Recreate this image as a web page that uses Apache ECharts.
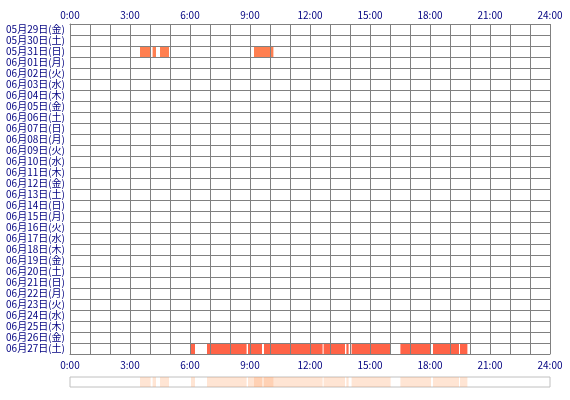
<!DOCTYPE html>
<html>
<head>
<meta charset="utf-8">
<script src="https://cdn.jsdelivr.net/npm/echarts@6/dist/echarts.min.js"></script>
<style>
html, body { margin: 0; padding: 0; background: #fff; }
#chart { width: 570px; height: 400px; }
</style>
</head>
<body>
<div id="chart"></div>
<script>
// day rows, top to bottom
var days = [
  "05月29日(金)", "05月30日(土)", "05月31日(日)", "06月01日(月)", "06月02日(火)",
  "06月03日(水)", "06月04日(木)", "06月05日(金)", "06月06日(土)", "06月07日(日)",
  "06月08日(月)", "06月09日(火)", "06月10日(水)", "06月11日(木)", "06月12日(金)",
  "06月13日(土)", "06月14日(日)", "06月15日(月)", "06月16日(火)", "06月17日(水)",
  "06月18日(木)", "06月19日(金)", "06月20日(土)", "06月21日(日)", "06月22日(月)",
  "06月23日(火)", "06月24日(水)", "06月25日(木)", "06月26日(金)", "06月27日(土)"
];

// time ticks (hours)
var hourLabels = ["0:00", "3:00", "6:00", "9:00", "12:00", "15:00", "18:00", "21:00", "24:00"];

// active periods [start hour, end hour]
var may31 = [[3.5, 4.03], [4.13, 4.3], [4.5, 4.95], [9.2, 10.17]];
var jun27 = [
  [6.05, 6.25], [6.85, 8.83], [8.9, 9.6], [9.7, 12.63], [12.68, 13.75],
  [13.82, 13.93], [14.08, 16.03], [16.52, 18.05], [18.15, 19.45], [19.5, 19.87]
];

var rowColors = { "05月31日(日)": "#ff7f50", "06月27日(土)": "#ff6347" };

function toItems(day, list) {
  return list.map(function (s) { return [s[0], s[1], day]; });
}
var items = toItems("05月31日(日)", may31).concat(toItems("06月27日(土)", jun27));

function renderBar(params, api) {
  var a = api.coord([api.value(0), api.value(2)]);
  var b = api.coord([api.value(1), api.value(2)]);
  var h = api.size([0, 1])[1];
  return {
    type: "rect",
    shape: { x: a[0], y: a[1] - h / 2, width: b[0] - a[0], height: h },
    style: api.style()
  };
}

var fontName = "'Noto Sans CJK JP', sans-serif";
var labelStyle = { color: "#000080", fontSize: 10, fontFamily: fontName };

function hourAxis(pos) {
  return {
    type: "value", gridIndex: 0, position: pos, min: 0, max: 24, interval: 1, z: 3,
    axisLine: { show: true, lineStyle: { color: "#808080", width: 1 } },
    axisTick: { show: false },
    splitLine: { show: true, lineStyle: { color: "#808080", width: 1 } },
    axisLabel: Object.assign({
      margin: pos === "top" ? 4 : 6,
      formatter: function (v) { return v % 3 === 0 ? hourLabels[v / 3] : ""; }
    }, labelStyle)
  };
}

var chart = echarts.init(document.getElementById("chart"));
chart.setOption({
  animation: false,
  backgroundColor: "#fff",
  grid: [
    { left: 70, right: 20, top: 24, height: 330 },
    { left: 70, right: 20, top: 377, height: 10, show: true, borderColor: "#c0c0c0", borderWidth: 1 }
  ],
  xAxis: [
    hourAxis("top"),
    hourAxis("bottom"),
    { type: "value", gridIndex: 1, min: 0, max: 24, show: false }
  ],
  yAxis: [
    {
      type: "category", gridIndex: 0, data: days, inverse: true, z: 3,
      axisLine: { show: true, lineStyle: { color: "#808080", width: 1 } },
      axisTick: { show: false },
      splitLine: { show: true, lineStyle: { color: "#808080", width: 1 } },
      axisLabel: Object.assign({ margin: 5, interval: 0 }, labelStyle)
    },
    { type: "category", gridIndex: 1, data: ["all"], show: false }
  ],
  series: [
    {
      type: "custom", xAxisIndex: 0, yAxisIndex: 0, z: 2,
      renderItem: renderBar,
      encode: { x: [0, 1], y: 2 },
      itemStyle: {
        color: function (p) { return rowColors[p.value[2]]; }
      },
      data: items
    },
    {
      type: "custom", xAxisIndex: 2, yAxisIndex: 1,
      renderItem: function (params, api) {
        var a = api.coord([api.value(0), 0]);
        var b = api.coord([api.value(1), 0]);
        var h = api.size([0, 1])[1];
        return {
          type: "rect",
          shape: { x: a[0], y: a[1] - h / 2, width: b[0] - a[0], height: h },
          style: { fill: "#ff9955", opacity: 0.25 }
        };
      },
      encode: { x: [0, 1] },
      data: items.map(function (d) { return [d[0], d[1]]; })
    }
  ]
});
</script>
</body>
</html>
